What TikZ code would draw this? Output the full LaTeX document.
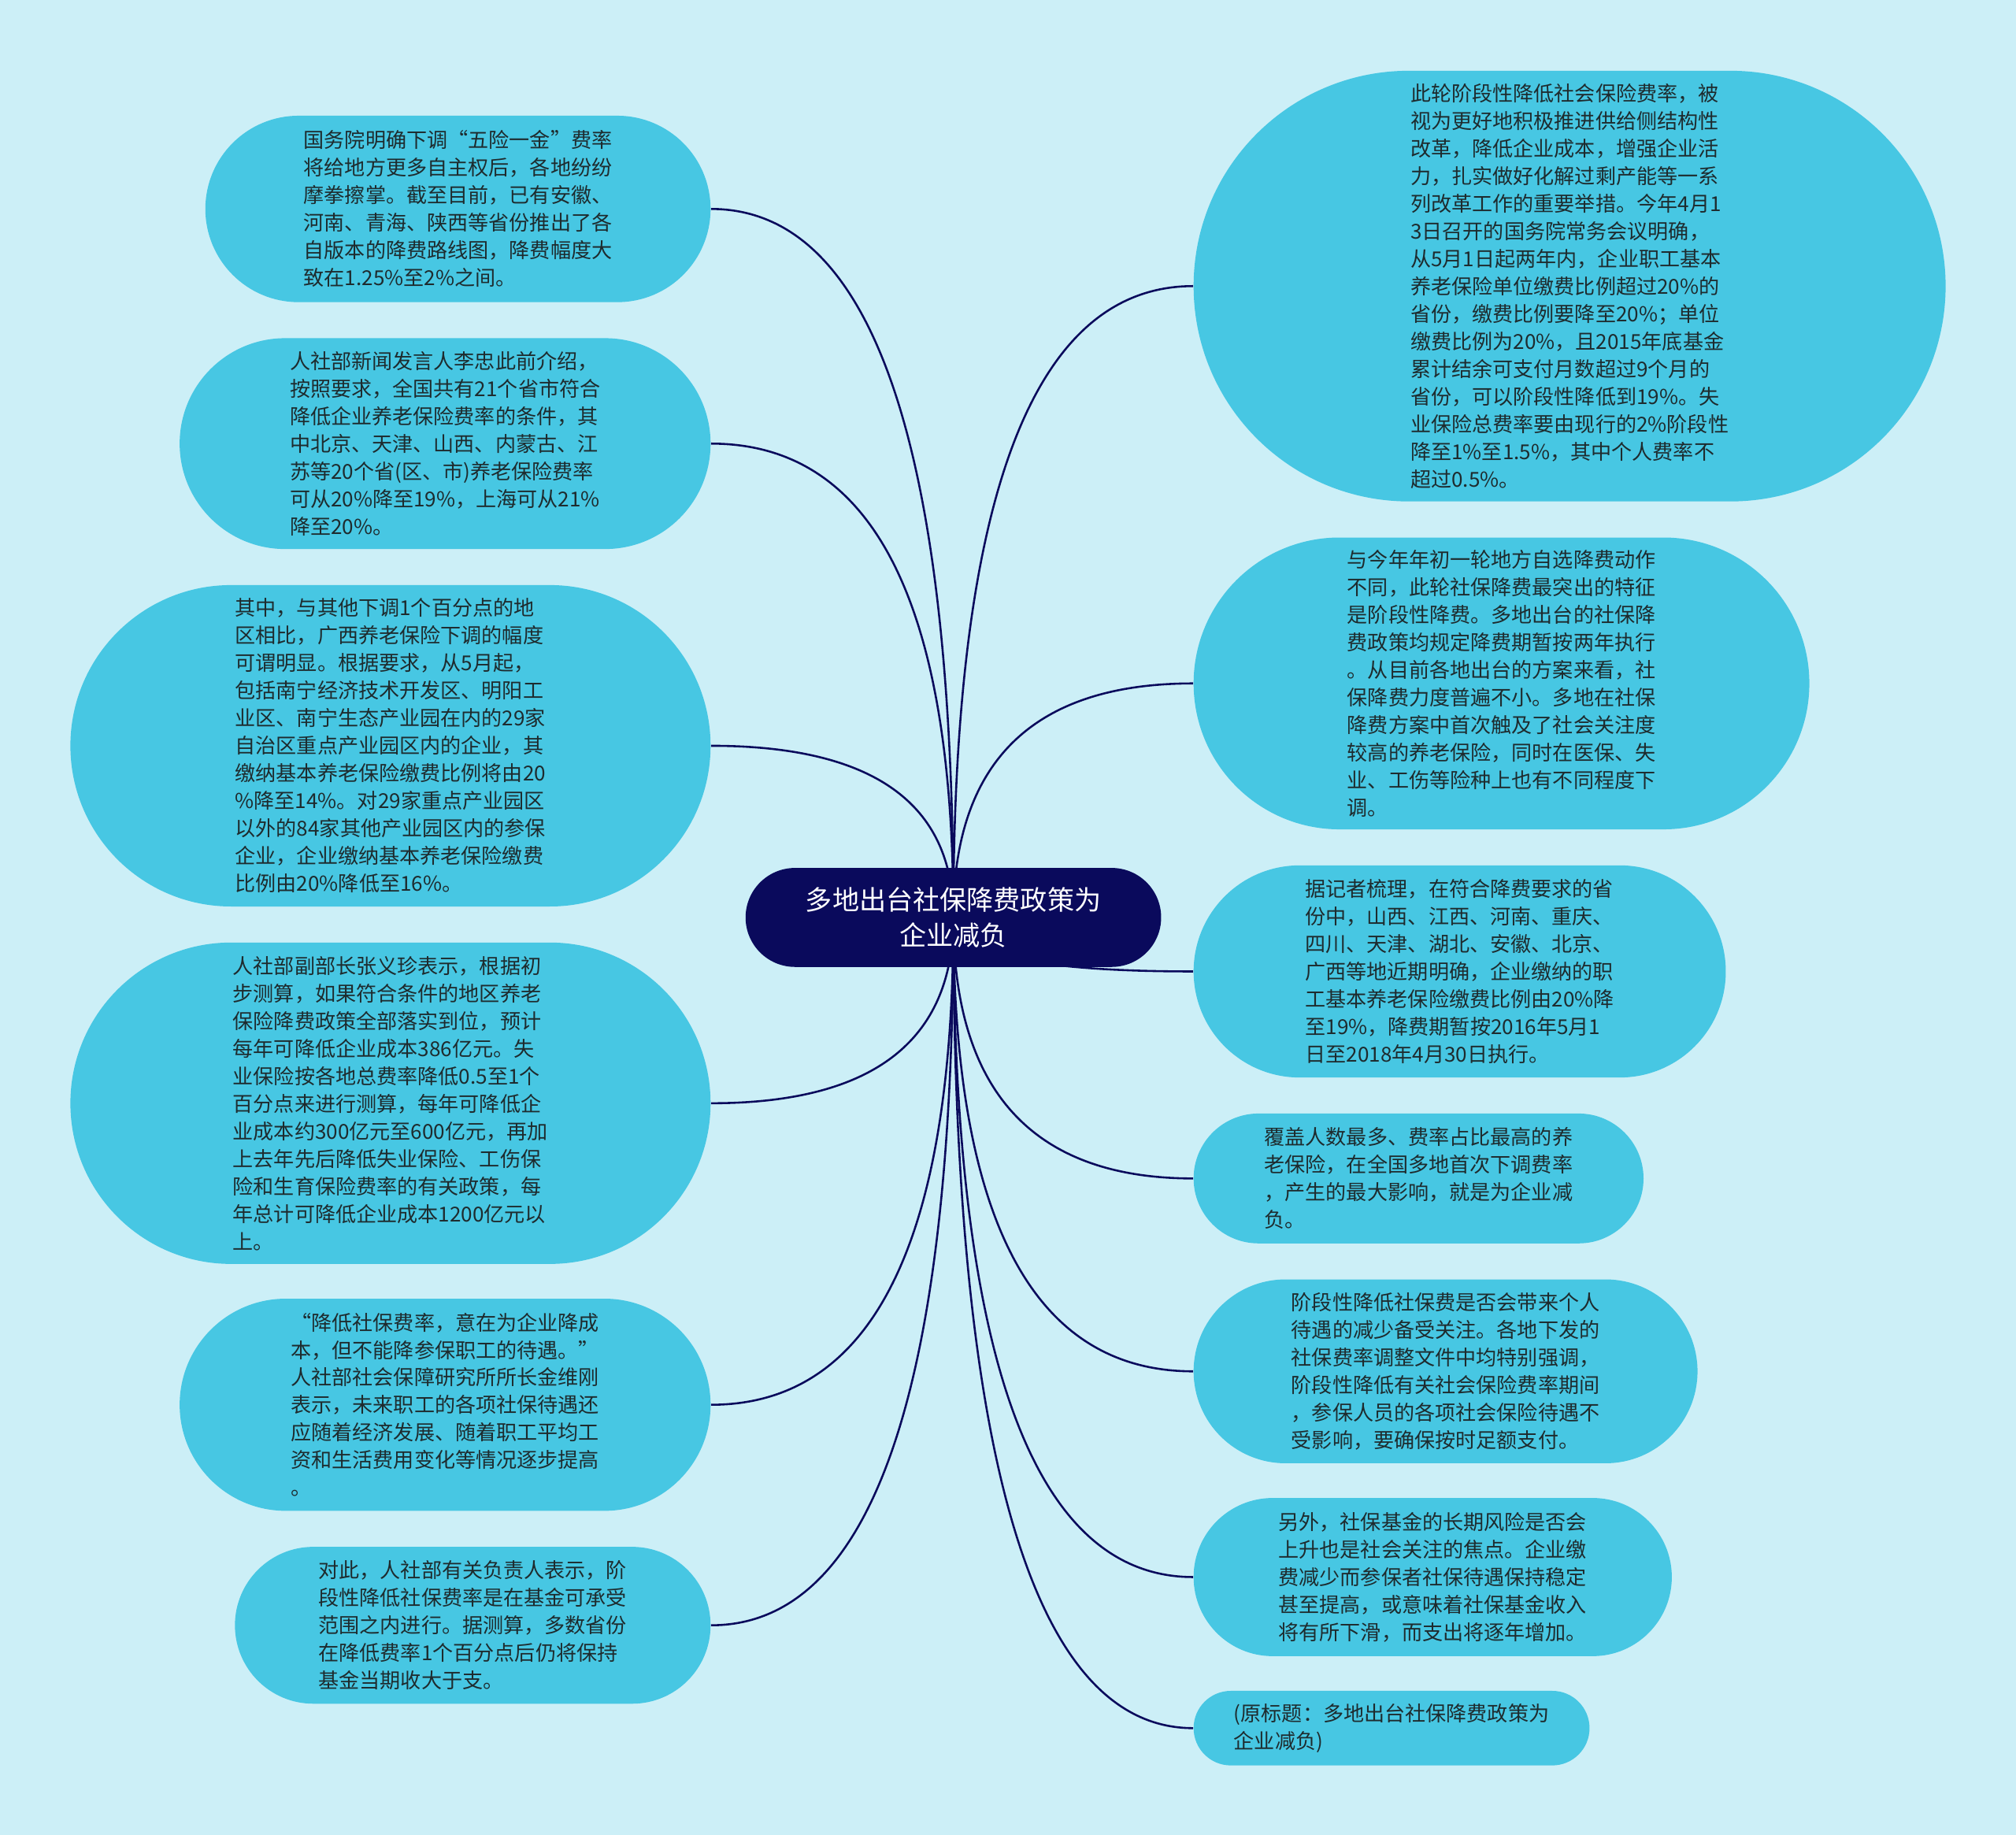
\documentclass[tikz,border=0pt]{standalone}
\usepackage{fontspec}
\setmainfont{Noto Sans CJK SC}
\usepackage{tikz}
\usetikzlibrary{shapes.misc,calc,backgrounds}
\definecolor{paper}{HTML}{CCEFF7}
\definecolor{leaf}{HTML}{47C7E3}
\definecolor{navy}{HTML}{0A0A5C}
\definecolor{ink}{HTML}{1E2B2E}
\def\pxsize{0.02cm}

\begin{document}
\begin{tikzpicture}[x=\pxsize,y=-\pxsize]
    \tikzstyle{every edge}=[draw=navy,line width=0.9pt]
    \tikzstyle{topic}=[rounded rectangle,fill=leaf,text=ink,align=left,inner xsep=0pt,inner ysep=2pt,font=\fontsize{9.1pt}{12.2pt}\selectfont]
    \tikzstyle{left topic}=[topic,anchor=east]
    \tikzstyle{right topic}=[topic,anchor=west]
    \tikzstyle{title}=[rounded rectangle,fill=navy,text=white,align=center,minimum width=6.7cm,minimum height=1.54cm,font=\fontsize{11.9pt}{15.9pt}\selectfont]
    \tikzstyle{branch}=[to path={.. controls ($(\tikztostart)!2/3!(\tikztostart|-\tikztotarget)$) and ($(\tikztotarget)!2/3!(\tikztostart|-\tikztotarget)$) .. (\tikztotarget)}]

    % Draw the title node
    \node[title] (T) at (741.5,713.5) {多地出台社保降费政策为\\企业减负};

    % Draw the topics on the left
    \node[left topic,minimum width=7.86cm,minimum height=2.9cm] (L-1) at (553,162.5)
        {国务院明确下调“五险一金”费率\\将给地方更多自主权后，各地纷纷\\摩拳擦掌。截至目前，已有安徽、\\河南、青海、陕西等省份推出了各\\自版本的降费路线图，降费幅度大\\致在1.25\%至2\%之间。};
    \node[left topic,minimum width=8.26cm,minimum height=3.28cm] (L-2) at (553,345)
        {人社部新闻发言人李忠此前介绍，\\按照要求，全国共有21个省市符合\\降低企业养老保险费率的条件，其\\中北京、天津、山西、内蒙古、江\\苏等20个省(区、市)养老保险费率\\可从20\%降至19\%，上海可从21\%\\降至20\%。};
    \node[left topic,minimum width=9.96cm,minimum height=5cm] (L-3) at (553,580)
        {其中，与其他下调1个百分点的地\\区相比，广西养老保险下调的幅度\\可谓明显。根据要求，从5月起，\\包括南宁经济技术开发区、明阳工\\业区、南宁生态产业园在内的29家\\自治区重点产业园区内的企业，其\\缴纳基本养老保险缴费比例将由20\\\%降至14\%。对29家重点产业园区\\以外的84家其他产业园区内的参保\\企业，企业缴纳基本养老保险缴费\\比例由20\%降低至16\%。};
    \node[left topic,minimum width=9.96cm,minimum height=5cm] (L-4) at (553,858)
        {人社部副部长张义珍表示，根据初\\步测算，如果符合条件的地区养老\\保险降费政策全部落实到位，预计\\每年可降低企业成本386亿元。失\\业保险按各地总费率降低0.5至1个\\百分点来进行测算，每年可降低企\\业成本约300亿元至600亿元，再加\\上去年先后降低失业保险、工伤保\\险和生育保险费率的有关政策，每\\年总计可降低企业成本1200亿元以\\上。};
    \node[left topic,minimum width=8.26cm,minimum height=3.3cm] (L-5) at (553,1092.5)
        {“降低社保费率，意在为企业降成\\本，但不能降参保职工的待遇。”\\人社部社会保障研究所所长金维刚\\表示，未来职工的各项社保待遇还\\应随着经济发展、随着职工平均工\\资和生活费用变化等情况逐步提高\\。};
    \node[left topic,minimum width=7.4cm,minimum height=2.44cm] (L-6) at (553,1264)
        {对此，人社部有关负责人表示，阶\\段性降低社保费率是在基金可承受\\范围之内进行。据测算，多数省份\\在降低费率1个百分点后仍将保持\\基金当期收大于支。};

    % Draw the topics on the right
    \node[right topic,minimum width=11.7cm,minimum height=6.7cm] (R-1) at (928,222.5)
        {此轮阶段性降低社会保险费率，被\\视为更好地积极推进供给侧结构性\\改革，降低企业成本，增强企业活\\力，扎实做好化解过剩产能等一系\\列改革工作的重要举措。今年4月1\\3日召开的国务院常务会议明确，\\从5月1日起两年内，企业职工基本\\养老保险单位缴费比例超过20\%的\\省份，缴费比例要降至20\%；单位\\缴费比例为20\%，且2015年底基金\\累计结余可支付月数超过9个月的\\省份，可以阶段性降低到19\%。失\\业保险总费率要由现行的2\%阶段性\\降至1\%至1.5\%，其中个人费率不\\超过0.5\%。};
    \node[right topic,minimum width=9.58cm,minimum height=4.54cm] (R-2) at (928,531.5)
        {与今年年初一轮地方自选降费动作\\不同，此轮社保降费最突出的特征\\是阶段性降费。多地出台的社保降\\费政策均规定降费期暂按两年执行\\。从目前各地出台的方案来看，社\\保降费力度普遍不小。多地在社保\\降费方案中首次触及了社会关注度\\较高的养老保险，同时在医保、失\\业、工伤等险种上也有不同程度下\\调。};
    \node[right topic,minimum width=8.28cm,minimum height=3.3cm] (R-3) at (928,755.5)
        {据记者梳理，在符合降费要求的省\\份中，山西、江西、河南、重庆、\\四川、天津、湖北、安徽、北京、\\广西等地近期明确，企业缴纳的职\\工基本养老保险缴费比例由20\%降\\至19\%，降费期暂按2016年5月1\\日至2018年4月30日执行。};
    \node[right topic,minimum width=7cm,minimum height=2.02cm] (R-4) at (928,916.5)
        {覆盖人数最多、费率占比最高的养\\老保险，在全国多地首次下调费率\\，产生的最大影响，就是为企业减\\负。};
    \node[right topic,minimum width=7.84cm,minimum height=2.86cm] (R-5) at (928,1066.5)
        {阶段性降低社保费是否会带来个人\\待遇的减少备受关注。各地下发的\\社保费率调整文件中均特别强调，\\阶段性降低有关社会保险费率期间\\，参保人员的各项社会保险待遇不\\受影响，要确保按时足额支付。};
    \node[right topic,minimum width=7.44cm,minimum height=2.46cm] (R-6) at (928,1226.5)
        {另外，社保基金的长期风险是否会\\上升也是社会关注的焦点。企业缴\\费减少而参保者社保待遇保持稳定\\甚至提高，或意味着社保基金收入\\将有所下滑，而支出将逐年增加。};
    \node[right topic,minimum width=6.16cm,minimum height=1.16cm] (R-7) at (928,1344)
        {(原标题：多地出台社保降费政策为\\企业减负)};

    % Connect the title with every topic, behind the nodes
    \begin{pgfonlayer}{background}
        \fill[paper] (0,0) rectangle (1568,1427);
        \foreach \name in {1,...,6}
            \path (T.center) edge[branch] (L-\name.east);
        \foreach \name in {1,...,7}
            \path (T.center) edge[branch] (R-\name.west);
    \end{pgfonlayer}
\end{tikzpicture}
\end{document}
